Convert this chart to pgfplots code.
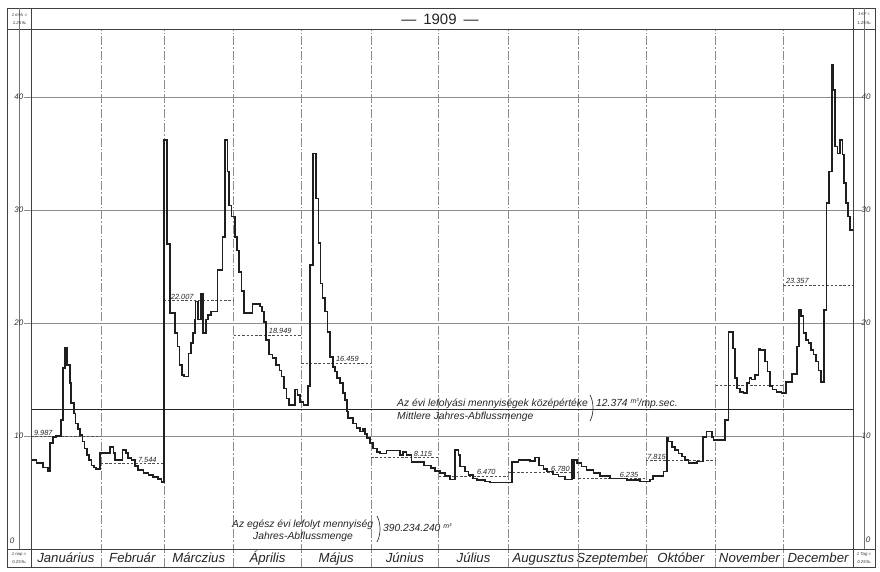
\documentclass[border=0pt]{standalone}
\usepackage{pgfplots}
\pgfplotsset{compat=1.18}
\usepackage{fontspec}
\setmainfont{Liberation Sans}
\tikzset{
  hgrid/.style={draw=black!45, line width=0.55pt},
  vgrid/.style={draw=black!45, line width=0.55pt, dash pattern=on 9pt off 2pt on 1.5pt off 2pt},
  meanl/.style={draw=black!70, line width=0.6pt, dash pattern=on 2.5pt off 1.8pt},
  lab/.style={font=\fontsize{7.4}{8}\selectfont\itshape, inner sep=0.8pt, text=black!85},
  frame/.style={draw=black!75, line width=0.9pt},
  ylab/.style={font=\fontsize{8}{9}\selectfont\itshape, inner sep=0.5pt, text=black!80},
  tiny/.style={font=\fontsize{4.3}{5}\selectfont\itshape, inner sep=0pt, text=black!80},
  note/.style={font=\fontsize{10.3}{12}\selectfont\itshape, inner sep=0pt, text=black!85},
}
\begin{document}
\begin{tikzpicture}
\path[use as bounding box] (0,0) rectangle (880pt,-571pt);
\fill[white] (0,0) rectangle (880pt,-571pt);
\begin{axis}[at={(31pt,-549pt)}, anchor=south west, scale only axis,
  width=822pt, height=520pt, xmin=0, xmax=365, ymin=0, ymax=46,
  axis line style={draw=none}, clip=false,
  xtick={15.5,45,74.5,105,135.5,166,196.5,227.5,258,288.5,319,349.5},
  xticklabels={Januárius,Február,Márczius,Április,Május,Június,Július,Augusztus,Szeptember,Október,November,December},
  xticklabel style={font=\fontsize{13.2}{15}\selectfont\itshape, anchor=base, yshift=-13.5pt, inner sep=0pt, text=black!85},
  major tick length=0pt, ytick=\empty]
% grid
\pgfplotsinvokeforeach{10,20,30,40}{\draw[hgrid] (axis cs:-3,#1) -- (axis cs:369,#1);}
\pgfplotsinvokeforeach{31,59,90,120,151,181,212,243,273,304,334}{\draw[vgrid] (axis cs:#1,-1.593) -- (axis cs:#1,46);}
% monthly means
\addplot[meanl] coordinates {(0,9.987)(31,9.987)};
\addplot[meanl] coordinates {(31,7.544)(59,7.544)};
\addplot[meanl] coordinates {(59,22.007)(90,22.007)};
\addplot[meanl] coordinates {(90,18.949)(120,18.949)};
\addplot[meanl] coordinates {(120,16.459)(151,16.459)};
\addplot[meanl] coordinates {(151,8.115)(181,8.115)};
\addplot[meanl] coordinates {(181,6.470)(212,6.470)};
\addplot[meanl] coordinates {(212,6.780)(243,6.780)};
\addplot[meanl] coordinates {(243,6.235)(273,6.235)};
\addplot[meanl] coordinates {(273,7.815)(304,7.815)};
\addplot[meanl] coordinates {(304,14.5)(334,14.5)};
\addplot[meanl] coordinates {(334,23.357)(365,23.357)};
% annual mean
\addplot[black!85, line width=1pt] coordinates {(0,12.374)(365,12.374)};
% daily discharge
\addplot[const plot, black!88, line width=1.65pt, line join=miter] coordinates {
(0,7.9) (2.4,7.6) (5.3,7.2) (7.5,6.85) (8.3,9.35) (9.8,9.9) (11.2,10.0) (13.2,11.4) (14.2,16.0) (15.2,17.8) (16.1,16.3) (17.2,14.7) (17.9,12.9) (19,12.0) (19.8,11.1) (20.9,10.6) (21.9,10.1) (22.8,9.5) (23.8,8.9) (24.9,8.3) (25.8,7.9) (26.8,7.4) (28,7.2) (29,7.1)
(30.6,8.5) (35.1,9.05) (36.6,8.5) (37.3,7.9) (40.7,8.76) (42.2,8.5) (43.2,8.05) (44.7,7.85) (46.2,7.35) (47.6,7.0) (49.9,6.75) (52.1,6.55) (54.3,6.35) (56.5,6.2) (58,5.95)
(59,36.2) (60.5,27.0) (61.6,20.9) (63.8,19.1) (65,17.9) (66,16.3) (67,15.4) (68,15.25) (70,17.3) (71,18.2) (72,19.1) (72.7,20.3) (73.1,21.9) (74.2,20.3) (75.4,22.6) (76.4,19.1) (77.6,20.3) (78.6,20.7) (79.8,21.0) (82.8,24.7) (85.1,27.6) (86.1,36.2) (87.2,33.4) (88,30.4) (89.1,29.4)
(90.5,27.6) (91.5,26.4) (92.5,24.5) (93.5,22.8) (94.7,20.9) (98.4,21.7) (101.7,21.45) (102.7,21.0) (103.6,20.1) (104.4,18.5) (105.8,17.2) (107.3,16.9) (108.8,16.3) (110.3,15.8) (111.3,15.25) (112.3,14.2) (113.5,13.3) (114.7,12.75) (117.2,14.1) (118.4,13.6) (119.5,13.0)
(121,12.75) (122.9,14.4) (123.9,25.1) (125.1,35.0) (126.6,31.0) (127.6,27.05) (128.6,23.5) (129.5,22.2) (130.5,21.0) (131.6,19.2) (132.8,17.0) (134,16.1) (135,15.7) (136,15.1) (137.2,14.7) (138.4,13.8) (139.4,13.2) (140.2,12.15) (140.9,11.6) (143.1,11.1) (144.6,10.7) (146.1,10.4) (147.3,10.6) (148.3,10.2) (149.3,9.8) (150.5,9.35)
(152,8.9) (153.5,8.6) (155,8.45) (157.9,8.7) (163.9,8.3) (165.3,8.6) (166.8,8.3) (169,7.7) (174.5,7.4) (177.5,7.15) (179.5,6.9) (181.6,6.7) (183.8,6.45)
(186,6.15) (188.3,8.76) (189.8,8.3) (190.5,7.3) (192.7,6.85) (194.2,6.55) (196.4,6.24) (197.9,6.1) (201.6,5.96) (203.8,5.87)
(213.5,7.7) (216.4,7.9) (221.6,7.8) (223.8,8.1) (225.5,7.4) (227.5,7.1) (229,6.85) (231.9,6.6) (234.2,6.4) (237.1,6.15) (240.1,7.9) (240.8,6.3) (241.3,7.9) (242.3,7.6)
(244.5,7.3) (246.7,7.0) (249.7,6.7) (252.7,6.45) (257.1,6.25) (264.5,6.1) (270.4,5.96)
(274.9,6.15) (276.3,6.45) (280.8,6.85) (282.3,9.8) (283,9.5) (284.5,9.05) (286,8.76) (287.5,8.45) (289,8.17) (290.4,7.9) (291.9,7.6) (295.6,7.75) (298.5,9.9) (300,10.4) (302.3,9.9) (303,9.65)
(308.2,11.4) (309.7,19.2) (311.6,17.75) (312.6,15.1) (313.6,14.2) (314.8,13.9) (316.3,13.8) (317.8,14.7) (319,15.1) (320,15.0) (321.5,15.4) (323,17.75) (323.7,17.6) (325.9,16.6) (327,15.7) (328.2,14.4) (329.3,14.1) (331.1,13.9) (333.3,13.8)
(335.3,14.8) (337.8,15.5) (340,17.9) (341,21.15) (341.9,20.6) (343,19.1) (344.1,18.5) (345.2,18.2) (346.4,17.6) (347.4,17.2) (348.6,16.6) (349.6,15.8) (350.7,14.8) (352.1,21.15) (353.3,30.6) (354.4,33.4) (355.6,42.8) (356.3,40.6) (357.1,35.6) (358.1,35.0) (359.2,36.2) (360.3,34.9) (361,32.4) (361.9,30.6) (362.9,29.4) (363.7,28.2) (365,28.2)
};
% monthly mean labels
\node[lab, anchor=south west] at (axis cs:0.9,9.987) {9.987};
\node[lab, anchor=south west] at (axis cs:47.1,7.544) {7.544};
\node[lab, anchor=south west] at (axis cs:61.7,22.007) {22.007};
\node[lab, anchor=south west] at (axis cs:105.2,18.949) {18.949};
\node[lab, anchor=south west] at (axis cs:135,16.459) {16.459};
\node[lab, anchor=south west] at (axis cs:169.6,8.115) {8.115};
\node[lab, anchor=south west] at (axis cs:197.6,6.470) {6.470};
\node[lab, anchor=south west] at (axis cs:230.5,6.780) {6.780};
\node[lab, anchor=south west] at (axis cs:261,6.235) {6.235};
\node[lab, anchor=south west] at (axis cs:273.2,7.815) {7.815};
\node[lab, anchor=south west] at (axis cs:334.8,23.357) {23.357};
\end{axis}
\begin{scope}[x=1pt,y=-1pt]
% table frame
\draw[frame] (7,8) rectangle (875,567);
\draw[frame] (7,29) -- (875,29);
\draw[frame] (7,549) -- (875,549);
\draw[frame] (31,8) -- (31,567);
\draw[frame] (853,8) -- (853,567);
\draw[draw=black!55, line width=0.6pt] (19,8) -- (19,549);
\draw[draw=black!55, line width=0.6pt] (864,8) -- (864,549);
% title
\node[font=\fontsize{15}{17}\selectfont, text=black!85] at (440,19) {—\hspace{7pt}1909\hspace{7pt}—};
% corner notes
\node[tiny] at (19.5,14.5) {1\,m³/s =};
\node[tiny] at (19.5,23) {1.25\,‰};
\node[tiny] at (864,14.5) {1\,m³ =};
\node[tiny] at (864,23) {1.25\,‰};
\node[tiny] at (19,554.5) {1 nap =};
\node[tiny] at (19,562) {0.25\,‰};
\node[tiny] at (864,554.5) {1 Tag =};
\node[tiny] at (864,562) {0.25\,‰};
% y labels
\foreach \v/\yy in {40/97,30/210,20/323,10/436}{
  \node[ylab, anchor=east] at (24,\yy) {\v};
  \node[ylab, anchor=west] at (861,\yy) {\v};
}
\node[ylab] at (12,541) {0};
\node[ylab] at (868,540) {0};
% annual mean annotation
\node[note, anchor=base west] at (397,406) {Az évi lefolyási mennyiségek középértéke};
\node[note, anchor=base west] at (397,419) {Mittlere Jahres-Abflussmenge};
\draw[black!80, line width=0.7pt] (590,395) .. controls (594,402) and (594,414) .. (590,421);
\node[note, anchor=base west] at (596,406) {12.374 \raisebox{3pt}{\fontsize{7}{7}\selectfont m³}/mp.sec.};
% total runoff annotation
\node[note, anchor=base west] at (232,527) {Az egész évi lefolyt mennyiség};
\node[note, anchor=base] at (303,539) {Jahres-Abflussmenge};
\draw[black!80, line width=0.7pt] (377,516) .. controls (381,523) and (381,535) .. (377,542);
\node[note, anchor=base west] at (383,531) {390.234.240 \raisebox{3pt}{\fontsize{7}{7}\selectfont m³}};
\end{scope}
\end{tikzpicture}
\end{document}
